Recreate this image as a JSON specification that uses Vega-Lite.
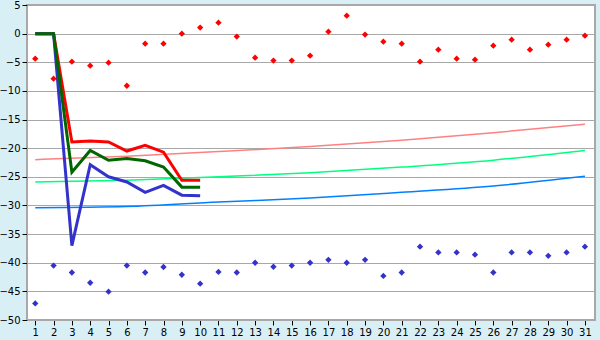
{
  "$schema": "https://vega.github.io/schema/vega-lite/v6.json",
  "width": 568,
  "height": 315,
  "autosize": {"type": "none"},
  "padding": {"left": 27, "top": 5, "right": 5, "bottom": 20},
  "background": "#d9eff6",
  "config": {
    "view": {"fill": "white", "stroke": "#a8a8a8", "strokeWidth": 2},
    "axis": {"labelFont": "DejaVu Sans", "labelFontSize": 10, "labelColor": "black", "domainColor": "#a8a8a8", "tickColor": "black", "tickSize": 5, "labelPadding": 2, "title": null}
  },
  "datasets": {
    "trend": [
      {"x": 1, "s": "t1", "v": -22.0}, {"x": 6, "s": "t1", "v": -21.4}, {"x": 11, "s": "t1", "v": -20.6}, {"x": 16, "s": "t1", "v": -19.7}, {"x": 21, "s": "t1", "v": -18.6}, {"x": 26, "s": "t1", "v": -17.3}, {"x": 31, "s": "t1", "v": -15.8},
      {"x": 1, "s": "t2", "v": -25.9}, {"x": 6, "s": "t2", "v": -25.6}, {"x": 11, "s": "t2", "v": -25.0}, {"x": 16, "s": "t2", "v": -24.3}, {"x": 21, "s": "t2", "v": -23.3}, {"x": 26, "s": "t2", "v": -22.1}, {"x": 31, "s": "t2", "v": -20.4},
      {"x": 1, "s": "t3", "v": -30.4}, {"x": 6, "s": "t3", "v": -30.2}, {"x": 11, "s": "t3", "v": -29.4}, {"x": 16, "s": "t3", "v": -28.7}, {"x": 21, "s": "t3", "v": -27.7}, {"x": 26, "s": "t3", "v": -26.6}, {"x": 31, "s": "t3", "v": -24.9}
    ],
    "lines": [
      {"x": 1, "s": "a", "o": 1, "v": 0}, {"x": 2, "s": "a", "o": 1, "v": 0}, {"x": 3, "s": "a", "o": 1, "v": -18.9}, {"x": 4, "s": "a", "o": 1, "v": -18.75}, {"x": 5, "s": "a", "o": 1, "v": -18.9}, {"x": 6, "s": "a", "o": 1, "v": -20.5}, {"x": 7, "s": "a", "o": 1, "v": -19.5}, {"x": 8, "s": "a", "o": 1, "v": -20.7}, {"x": 9, "s": "a", "o": 1, "v": -25.6}, {"x": 10, "s": "a", "o": 1, "v": -25.6},
      {"x": 1, "s": "c", "o": 2, "v": 0}, {"x": 2, "s": "c", "o": 2, "v": 0}, {"x": 3, "s": "c", "o": 2, "v": -37.0}, {"x": 4, "s": "c", "o": 2, "v": -22.9}, {"x": 5, "s": "c", "o": 2, "v": -25.0}, {"x": 6, "s": "c", "o": 2, "v": -25.9}, {"x": 7, "s": "c", "o": 2, "v": -27.7}, {"x": 8, "s": "c", "o": 2, "v": -26.5}, {"x": 9, "s": "c", "o": 2, "v": -28.2}, {"x": 10, "s": "c", "o": 2, "v": -28.3},
      {"x": 1, "s": "b", "o": 3, "v": 0}, {"x": 2, "s": "b", "o": 3, "v": 0}, {"x": 3, "s": "b", "o": 3, "v": -24.2}, {"x": 4, "s": "b", "o": 3, "v": -20.4}, {"x": 5, "s": "b", "o": 3, "v": -22.1}, {"x": 6, "s": "b", "o": 3, "v": -21.8}, {"x": 7, "s": "b", "o": 3, "v": -22.2}, {"x": 8, "s": "b", "o": 3, "v": -23.3}, {"x": 9, "s": "b", "o": 3, "v": -26.8}, {"x": 10, "s": "b", "o": 3, "v": -26.8}
    ],
    "pts": [
      {"x": 1, "s": "r", "v": -4.37}, {"x": 2, "s": "r", "v": -7.86}, {"x": 3, "s": "r", "v": -4.9}, {"x": 4, "s": "r", "v": -5.6}, {"x": 5, "s": "r", "v": -5.07}, {"x": 6, "s": "r", "v": -9.1}, {"x": 7, "s": "r", "v": -1.75}, {"x": 8, "s": "r", "v": -1.75}, {"x": 9, "s": "r", "v": 0}, {"x": 10, "s": "r", "v": 1.05},
      {"x": 11, "s": "r", "v": 1.92}, {"x": 12, "s": "r", "v": -0.52}, {"x": 13, "s": "r", "v": -4.2}, {"x": 14, "s": "r", "v": -4.7}, {"x": 15, "s": "r", "v": -4.7}, {"x": 16, "s": "r", "v": -3.85}, {"x": 17, "s": "r", "v": 0.35}, {"x": 18, "s": "r", "v": 3.14}, {"x": 19, "s": "r", "v": -0.17}, {"x": 20, "s": "r", "v": -1.4},
      {"x": 21, "s": "r", "v": -1.75}, {"x": 22, "s": "r", "v": -4.9}, {"x": 23, "s": "r", "v": -2.8}, {"x": 24, "s": "r", "v": -4.37}, {"x": 25, "s": "r", "v": -4.54}, {"x": 26, "s": "r", "v": -2.1}, {"x": 27, "s": "r", "v": -1.05}, {"x": 28, "s": "r", "v": -2.8}, {"x": 29, "s": "r", "v": -1.92}, {"x": 30, "s": "r", "v": -1.05}, {"x": 31, "s": "r", "v": -0.35},
      {"x": 1, "s": "u", "v": -47.1}, {"x": 2, "s": "u", "v": -40.5}, {"x": 3, "s": "u", "v": -41.7}, {"x": 4, "s": "u", "v": -43.5}, {"x": 5, "s": "u", "v": -45.05}, {"x": 6, "s": "u", "v": -40.5}, {"x": 7, "s": "u", "v": -41.7}, {"x": 8, "s": "u", "v": -40.75}, {"x": 9, "s": "u", "v": -42.1}, {"x": 10, "s": "u", "v": -43.65},
      {"x": 11, "s": "u", "v": -41.6}, {"x": 12, "s": "u", "v": -41.7}, {"x": 13, "s": "u", "v": -40.0}, {"x": 14, "s": "u", "v": -40.7}, {"x": 15, "s": "u", "v": -40.5}, {"x": 16, "s": "u", "v": -40.0}, {"x": 17, "s": "u", "v": -39.5}, {"x": 18, "s": "u", "v": -40.0}, {"x": 19, "s": "u", "v": -39.5}, {"x": 20, "s": "u", "v": -42.3},
      {"x": 21, "s": "u", "v": -41.7}, {"x": 22, "s": "u", "v": -37.2}, {"x": 23, "s": "u", "v": -38.2}, {"x": 24, "s": "u", "v": -38.2}, {"x": 25, "s": "u", "v": -38.6}, {"x": 26, "s": "u", "v": -41.7}, {"x": 27, "s": "u", "v": -38.2}, {"x": 28, "s": "u", "v": -38.2}, {"x": 29, "s": "u", "v": -38.8}, {"x": 30, "s": "u", "v": -38.2}, {"x": 31, "s": "u", "v": -37.2}
    ]
  },
  "encoding": {
    "x": {"field": "x", "type": "quantitative", "scale": {"domain": [0.55, 31.55], "nice": false, "zero": false},
          "axis": {"values": [1,2,3,4,5,6,7,8,9,10,11,12,13,14,15,16,17,18,19,20,21,22,23,24,25,26,27,28,29,30,31], "grid": false, "labelFlush": false, "labelOverlap": false, "format": "d"}},
    "y": {"field": "v", "type": "quantitative", "scale": {"domain": [-50, 5], "nice": false, "zero": false},
          "axis": {"values": [5,0,-5,-10,-15,-20,-25,-30,-35,-40,-45,-50], "grid": true, "gridColor": "#a8a8a8", "gridOpacity": 1, "labelFlush": false, "labelOverlap": false, "format": "d"}}
  },
  "layer": [
    {
      "data": {"name": "trend"},
      "mark": {"type": "line", "strokeWidth": 1.5, "interpolate": "monotone"},
      "encoding": {
        "color": {"field": "s", "type": "nominal", "scale": {"domain": ["t1", "t2", "t3"], "range": ["#ff8080", "#00ff80", "#0080ff"]}, "legend": null}
      }
    },
    {
      "data": {"name": "lines"},
      "mark": {"type": "line", "strokeWidth": 3},
      "encoding": {
        "detail": {"field": "s"},
        "order": {"field": "x", "type": "quantitative"},
        "stroke": {"field": "s", "type": "nominal", "scale": {"domain": ["a", "b", "c"], "range": ["#ff0000", "#006600", "#3333cc"]}, "legend": null}
      }
    },
    {
      "data": {"name": "pts"},
      "mark": {"type": "point", "shape": "diamond", "filled": true, "size": 40, "opacity": 1},
      "encoding": {
        "fill": {"field": "s", "type": "nominal", "scale": {"domain": ["r", "u"], "range": ["#ff0000", "#3333cc"]}, "legend": null}
      }
    }
  ]
}
